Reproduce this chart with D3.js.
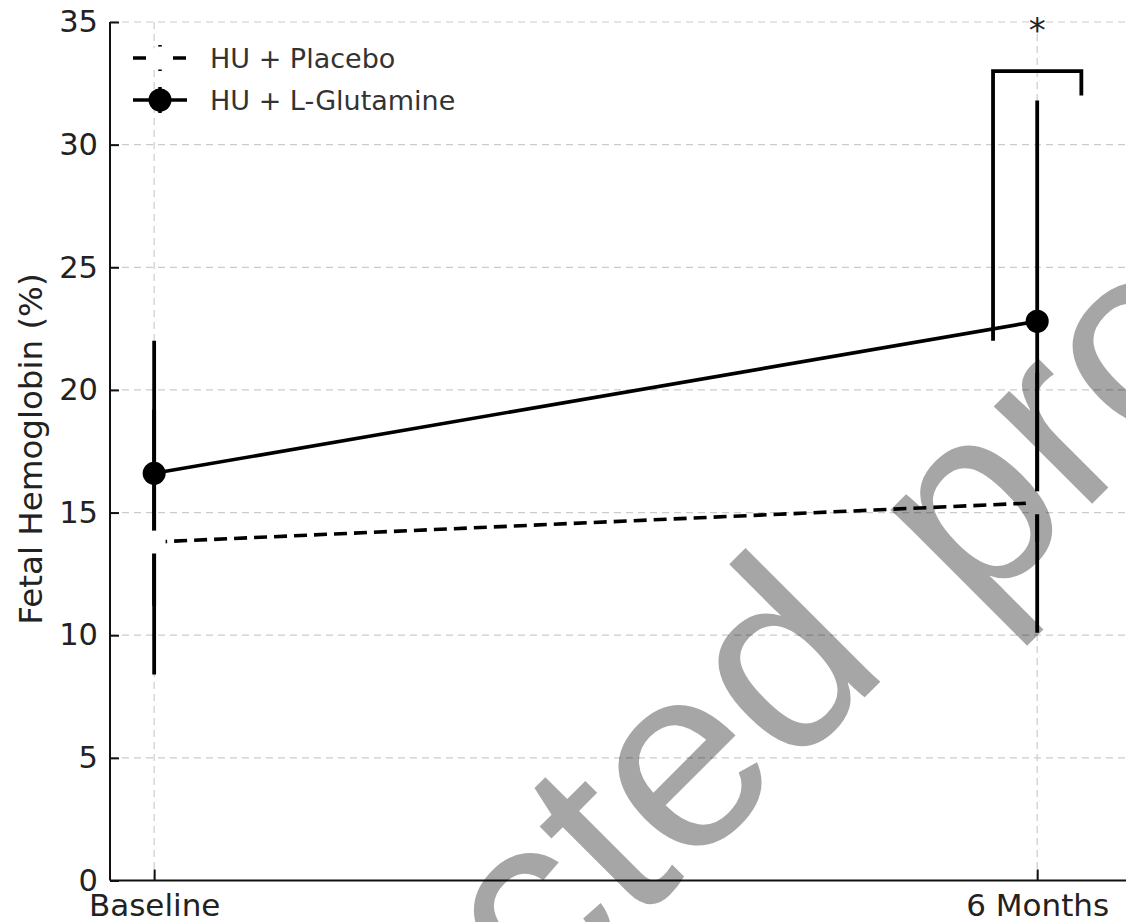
<!DOCTYPE html>
<html>
<head>
<meta charset="utf-8">
<script src="https://cdn.jsdelivr.net/npm/d3@7"></script>
<style>
  html, body { margin: 0; padding: 0; background: #fff; }
  svg { display: block; }
</style>
</head>
<body>
<svg id="chart" width="1126" height="922"></svg>
<script>
// ---- data ----
const timepoints = ["Baseline", "6 Months"];
const placeboMean = [13.8, 15.4];
const placeboErr = [5.4, 5.3];
const glutamineMean = [16.6, 22.8];
const glutamineErr = [5.4, 9.0];
const yTicks = [0, 5, 10, 15, 20, 25, 30, 35];
const seriesNames = ["HU + Placebo", "HU + L-Glutamine"];
// significance bracket: x positions (index units) and heights (left foot, top, right foot)
const bracketX = [0.95, 1.05];
const bracketY = [22, 33, 32];
const sigLabel = "*";
const sigY = 34.2;
const watermarkWords = ["Uncorrected", " proof"];

// ---- layout ----
const W = 1126, H = 922;
const plot = { left: 110, right: 1125.5, top: 22, bottom: 880.5 };
const font = "'DejaVu Sans', sans-serif";
const textColor = "#222";

const svg = d3.select("#chart");

const x = d3.scaleLinear().domain([-0.05, 1.1]).range([plot.left, plot.right]);
const y = d3.scaleLinear().domain([0, 35]).range([plot.bottom, plot.top]);
const idx = timepoints.map((_, i) => i);

// grid
const grid = svg.append("g").attr("stroke", "#cccccc").attr("stroke-width", 1.2)
  .attr("stroke-dasharray", "7,5");
grid.selectAll("line.h").data(yTicks.filter(t => t > 0)).join("line")
  .attr("x1", plot.left).attr("x2", W)
  .attr("y1", d => y(d)).attr("y2", d => y(d));
grid.selectAll("line.v").data(idx).join("line")
  .attr("x1", d => x(d)).attr("x2", d => x(d))
  .attr("y1", plot.top).attr("y2", plot.bottom);

// axes
const yAxis = d3.axisLeft(y).tickValues(yTicks).tickSize(-9).tickPadding(12);
const gy = svg.append("g").attr("transform", `translate(${plot.left},0)`).call(yAxis);
gy.select(".domain").attr("stroke", "#111").attr("stroke-width", 2)
  .attr("d", `M0,${plot.top}V${plot.bottom}`);
gy.selectAll(".tick line").attr("stroke", "#111").attr("stroke-width", 2);
gy.selectAll(".tick text").attr("font-family", font).attr("font-size", 30.5)
  .attr("fill", textColor).attr("x", -12).attr("dy", "0.32em");

const xAxis = d3.axisBottom(x).tickValues(idx).tickFormat(i => timepoints[i])
  .tickSize(-11).tickPadding(14);
const gx = svg.append("g").attr("transform", `translate(0,${plot.bottom})`).call(xAxis);
gx.select(".domain").attr("stroke", "#111").attr("stroke-width", 2)
  .attr("d", `M${plot.left},0H${W}`);
gx.selectAll(".tick line").attr("stroke", "#111").attr("stroke-width", 2);
gx.selectAll(".tick text").attr("font-family", font).attr("font-size", 31)
  .attr("fill", textColor).attr("y", 12).attr("dy", "0.76em");

// y label
svg.append("text")
  .attr("transform", `translate(42,449) rotate(-90)`)
  .attr("text-anchor", "middle")
  .attr("font-family", font).attr("font-size", 32.5).attr("fill", textColor)
  .text("Fetal Hemoglobin (%)");

// series drawing
function drawSeries(mean, err, dashed, markerFill) {
  const g = svg.append("g");
  g.selectAll("line.err").data(idx).join("line")
    .attr("x1", i => x(i)).attr("x2", i => x(i))
    .attr("y1", i => y(mean[i] - err[i])).attr("y2", i => y(mean[i] + err[i]))
    .attr("stroke", "#000").attr("stroke-width", 3.8);
  const line = d3.line().x(i => x(i)).y(i => y(mean[i]));
  g.append("path").datum(idx).attr("d", line)
    .attr("fill", "none").attr("stroke", "#000").attr("stroke-width", 3.6)
    .attr("stroke-dasharray", dashed ? "13,7" : null);
  g.selectAll("circle").data(idx).join("circle")
    .attr("cx", i => x(i)).attr("cy", i => y(mean[i])).attr("r", 11.5)
    .attr("fill", markerFill);
}
drawSeries(glutamineMean, glutamineErr, false, "#000");
drawSeries(placeboMean, placeboErr, true, "#fff");

// significance bracket
svg.append("path")
  .attr("d", d3.line()([
    [x(bracketX[0]), y(bracketY[0])],
    [x(bracketX[0]), y(bracketY[1])],
    [x(bracketX[1]), y(bracketY[1])],
    [x(bracketX[1]), y(bracketY[2])]
  ]))
  .attr("fill", "none").attr("stroke", "#000").attr("stroke-width", 3.8);
svg.append("text")
  .attr("x", x(1)).attr("y", y(sigY))
  .attr("text-anchor", "middle")
  .attr("font-family", font).attr("font-size", 34).attr("fill", textColor)
  .text(sigLabel);

// legend
const legend = svg.append("g");
const legendRows = [
  { name: seriesNames[0], dashed: true, fill: "#fff", y: 58 },
  { name: seriesNames[1], dashed: false, fill: "#000", y: 100 }
];
legendRows.forEach(r => {
  legend.append("line").attr("x1", 160).attr("x2", 160)
    .attr("y1", r.y - 13).attr("y2", r.y + 13)
    .attr("stroke", "#000").attr("stroke-width", 3.5);
  legend.append("line").attr("x1", 133).attr("x2", 187)
    .attr("y1", r.y).attr("y2", r.y)
    .attr("stroke", "#000").attr("stroke-width", 3.6)
    .attr("stroke-dasharray", r.dashed ? "13,7" : null);
  legend.append("circle").attr("cx", 160).attr("cy", r.y).attr("r", 11.5).attr("fill", r.fill);
  legend.append("text").attr("x", 210).attr("y", r.y).attr("dy", "0.36em")
    .attr("font-family", font).attr("font-size", 27).attr("fill", "#333")
    .text(r.name);
});

// watermark
const wm = svg.append("g").attr("transform", "translate(892,670) rotate(-45)");
const wmText = wm.append("text")
  .attr("font-family", "'Liberation Sans', Arial, sans-serif")
  .attr("font-size", 262)
  .attr("fill", "#000").attr("fill-opacity", 0.35)
  .attr("xml:space", "preserve");
wmText.append("tspan").text(watermarkWords[0]);
wmText.append("tspan").attr("dx", 22).attr("dy", 24).text(watermarkWords[1]);
const offset = wmText.node().getSubStringLength(0, watermarkWords[0].length);
wmText.attr("x", -offset + 0.07 * 262 - 18);
</script>
</body>
</html>
